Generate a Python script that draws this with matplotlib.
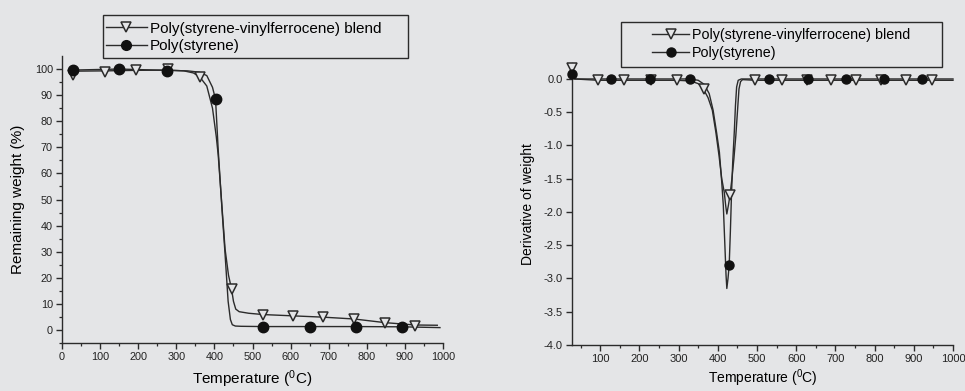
import matplotlib
matplotlib.use("Agg")
import matplotlib.pyplot as plt
from matplotlib.lines import Line2D
from matplotlib.patches import Rectangle

plt.rcParams['font.family'] = ['Liberation Sans', 'DejaVu Sans']
plt.rcParams['mathtext.fontset'] = 'custom'
plt.rcParams['mathtext.rm'] = 'Liberation Sans'
plt.rcParams['mathtext.it'] = 'Liberation Sans'

# ---------------- data ----------------
label_blend = "Poly(styrene-vinylferrocene) blend"
label_ps = "Poly(styrene)"
xlabel = r"Temperature ($\mathrm{^{0}}$C)"

# TGA (left) - curves
tga_blend_T = [25, 40, 113, 194, 279, 320, 345, 362, 380, 395, 405, 410, 420, 428, 437, 445, 450,
               456, 465, 490, 528, 607, 686, 767, 848, 927, 985]
tga_blend_w = [97.8, 99.2, 99.3, 99.5, 99.6, 99.3, 98.5, 96.9, 93.5, 85, 74, 67, 47, 31, 21, 15.7, 11,
               8, 7, 6.4, 5.9, 5.4, 4.9, 4.2, 2.8, 1.9, 1.8]
tga_ps_T = [25, 150, 275, 330, 360, 380, 395, 403, 410, 420, 428, 436, 442, 447, 455, 470, 528, 651,
            772, 893, 992]
tga_ps_w = [99.6, 100, 99.5, 99.3, 98.8, 97.5, 93, 88.4, 69, 46, 29, 11, 4, 2, 1.5, 1.4, 1.3, 1.3,
            1.3, 1.2, 0.9]
# TGA markers
tga_blend_mT = [28, 113, 194, 279, 362, 445, 528, 607, 686, 767, 848, 927]
tga_blend_mw = [97.7, 99.0, 99.6, 99.9, 96.8, 15.7, 5.7, 5.4, 4.9, 4.1, 2.6, 1.7]
tga_ps_mT = [28, 150, 275, 403, 528, 651, 772, 893]
tga_ps_mw = [99.6, 100, 99.2, 88.4, 1.3, 1.3, 1.3, 1.3]

# DTG (right) - curves
dtg_blend_T = [27, 35, 95, 161, 229, 297, 330, 350, 363, 375, 386, 395, 403, 410, 416.6, 420, 423,
               427, 431, 436, 441, 446, 450, 454, 458, 463, 495, 563, 690, 880, 1000]
dtg_blend_v = [0.15, 0.0, -0.02, -0.02, -0.02, -0.02, -0.03, -0.07, -0.15, -0.28, -0.47, -0.8, -1.15,
               -1.5, -1.71, -1.9, -2.03, -1.9, -1.75, -1.5, -1.2, -0.85, -0.5, -0.15, -0.04, -0.01,
               -0.02, -0.02, -0.02, -0.02, -0.02]
dtg_ps_T = [27, 35, 127, 227, 329, 350, 365, 378, 388, 397, 404, 410, 414, 418, 421, 423, 426, 429,
            432, 435, 438, 442, 445, 448, 452, 460, 531, 726, 922, 1000]
dtg_ps_v = [0.07, 0.0, 0.0, 0.0, 0.0, -0.02, -0.08, -0.22, -0.47, -0.81, -1.1, -1.55, -1.9, -2.5,
            -2.95, -3.15, -3.0, -2.8, -2.3, -1.72, -1.25, -0.8, -0.4, -0.12, -0.02, 0.0, 0.0, 0.0,
            0.0, 0.0]
# DTG markers
dtg_blend_mT = [27, 95, 161, 229, 297, 365, 431, 495, 563, 627, 690, 753, 817, 880, 946]
dtg_blend_mv = [0.17, -0.02, -0.02, -0.02, -0.02, -0.15, -1.75, -0.02, -0.02, -0.02, -0.02, -0.02,
                -0.02, -0.02, -0.02]
dtg_ps_mT = [27, 127, 227, 329, 429, 531, 631, 726, 825, 922]
dtg_ps_mv = [0.07, 0.0, 0.0, 0.0, -2.8, 0.0, 0.0, 0.0, 0.0, 0.0]

left_xticks = list(range(0, 1001, 100))
left_yticks = list(range(0, 101, 10))
right_xticks = list(range(100, 1001, 100))
right_yticks = [0.0, -0.5, -1.0, -1.5, -2.0, -2.5, -3.0, -3.5, -4.0]

# ---------------- style ----------------
BG = '#e4e5e7'
LC = '#2b2b2b'
fig = plt.figure(figsize=(9.65, 3.91), dpi=100, facecolor=BG)

ax1 = fig.add_axes([62/965, 48/391, 381/965, 287/391])
ax2 = fig.add_axes([572/965, 46/391, 381/965, 282/391])


def style_axes(ax, fs_tick):
    ax.set_facecolor(BG)
    for s in ('top', 'right'):
        ax.spines[s].set_visible(False)
    for s in ('left', 'bottom'):
        ax.spines[s].set_color(LC)
        ax.spines[s].set_linewidth(1.0)
    ax.tick_params(which='major', direction='out', length=4, width=1.0, color=LC,
                   labelsize=fs_tick, labelcolor='#222222', pad=2.5)
    ax.tick_params(which='minor', direction='out', length=2.2, width=0.9, color=LC)


# Left panel
style_axes(ax1, 7.8)
ax1.plot(tga_blend_T, tga_blend_w, color=LC, lw=1.0, zorder=2)
ax1.plot(tga_ps_T, tga_ps_w, color=LC, lw=1.0, zorder=2)
ax1.plot(tga_blend_mT, tga_blend_mw, ls='none', marker='v', ms=7.5, mfc=BG, mec=LC, mew=1.1, zorder=3)
ax1.plot(tga_ps_mT, tga_ps_mw, ls='none', marker='o', ms=7.5, mfc='#111111', mec='#111111', zorder=4)
ax1.set_xlim(0, 1000)
ax1.set_ylim(-5, 105)
ax1.set_xticks(left_xticks)
ax1.set_xticks([x + 50 for x in left_xticks[:-1]], minor=True)
ax1.set_yticks(left_yticks)
ax1.set_yticks([-5] + [y + 5 for y in left_yticks[:-1]], minor=True)
ax1.set_xlabel(xlabel, fontsize=11)
ax1.set_ylabel("Remaining weight (%)", fontsize=11)
ax1.xaxis.set_label_coords(0.5, -0.09)
ax1.yaxis.set_label_coords(-0.097, 0.5)

# Right panel
style_axes(ax2, 8)
ax2.plot(dtg_blend_T, dtg_blend_v, color=LC, lw=1.0, zorder=2)
ax2.plot(dtg_ps_T, dtg_ps_v, color=LC, lw=1.0, zorder=2)
ax2.plot(dtg_blend_mT, dtg_blend_mv, ls='none', marker='v', ms=6.5, mfc=BG, mec=LC, mew=1.1, zorder=3)
ax2.plot(dtg_ps_mT, dtg_ps_mv, ls='none', marker='o', ms=6.5, mfc='#111111', mec='#111111', zorder=4)
ax2.set_xlim(28, 1000)
ax2.set_ylim(-4.0, 0.24)
ax2.set_xticks(right_xticks)
ax2.set_xticks([x + 50 for x in right_xticks[:-1]] + [50], minor=True)
ax2.set_yticks(right_yticks)
ax2.set_yticklabels([f"{v:.1f}" for v in right_yticks])
ax2.set_xlabel(xlabel, fontsize=10)
ax2.set_ylabel("Derivative of weight", fontsize=10)
ax2.xaxis.set_label_coords(0.5, -0.08)
ax2.yaxis.set_label_coords(-0.097, 0.5)
for a in (ax1, ax2):
    for m in a.lines:
        m.set_clip_on(False)

# Legends
def make_handles(ms):
    h1 = Line2D([], [], color=LC, lw=1.0, marker='v', ms=ms, mfc=BG, mec=LC, mew=1.1)
    h2 = Line2D([], [], color=LC, lw=1.0, marker='o', ms=ms, mfc='#111111', mec='#111111')
    return [h1, h2]

leg1 = fig.legend(make_handles(7), [label_blend, label_ps], loc='center left',
                  bbox_to_anchor=(106/965, 1 - 37.5/391), frameon=False, fontsize=11,
                  handlelength=2.68, handletextpad=0.2, borderpad=0, borderaxespad=0,
                  labelspacing=0.25)
fig.add_artist(Rectangle((103/965, 1 - 58/391), 305/965, 43/391, transform=fig.transFigure,
                         fill=False, ec=LC, lw=1.0))
leg2 = fig.legend(make_handles(6.5), [label_blend, label_ps], loc='center left',
                  bbox_to_anchor=(652/965, 1 - 44/391), frameon=False, fontsize=10.3,
                  handlelength=2.6, handletextpad=0.2, borderpad=0, borderaxespad=0,
                  labelspacing=0.25)
fig.add_artist(Rectangle((621/965, 1 - 67/391), 321/965, 45/391, transform=fig.transFigure,
                         fill=False, ec=LC, lw=1.0))

fig.savefig("out.png", dpi=100, facecolor=BG)
